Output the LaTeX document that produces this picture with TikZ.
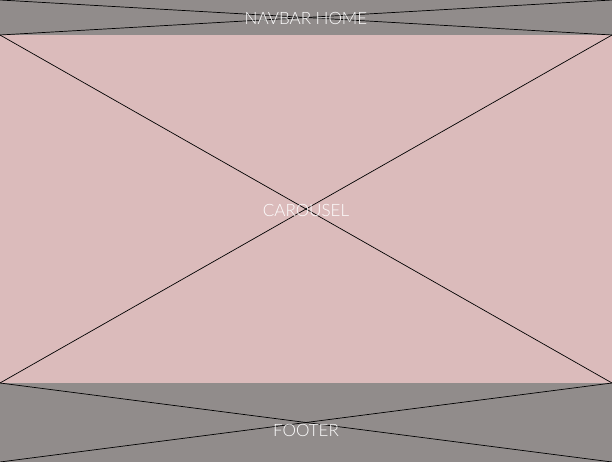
\documentclass[tikz,border=0pt]{standalone}
\usepackage{fontspec}
\setmainfont{Lato}[UprightFont=* Light]
\usepackage{xcolor}
\definecolor{bargray}{HTML}{918C8B}
\definecolor{carpink}{HTML}{DBBBBB}
\tikzset{
    crossline/.style={draw=black, line width=0.7pt},
    boxlabel/.style={text=white, font=\fontsize{17}{19}\selectfont, inner sep=0pt}
}

\begin{document}
\begin{tikzpicture}[x=1pt, y=-1pt]
    \useasboundingbox (0,0) rectangle (612,462);
    % corners of the three blocks
    \coordinate (NW) at (0,0);
    \coordinate (NE) at (612,0);
    \coordinate (CW) at (0,35);
    \coordinate (CE) at (612,35);
    \coordinate (FW) at (0,383);
    \coordinate (FE) at (612,383);
    \coordinate (SW) at (0,462);
    \coordinate (SE) at (612,462);
    % blocks
    \fill[bargray] (NW) rectangle (CE);
    \fill[carpink] (CW) rectangle (FE);
    \fill[bargray] (FW) rectangle (SE);
    % crosses
    \draw[crossline] (NW) -- (CE);
    \draw[crossline] (CW) -- (NE);
    \draw[crossline] (CW) -- (FE);
    \draw[crossline] (FW) -- (CE);
    \draw[crossline] (FW) -- (SE);
    \draw[crossline] (SW) -- (FE);
    % labels
    \node[boxlabel] (navbar) at (306,18) {NAVBAR HOME};
    \node[boxlabel] (carousel) at (306,210) {CAROUSEL};
    \node[boxlabel] (footer) at (306,430) {FOOTER};
\end{tikzpicture}
\end{document}
